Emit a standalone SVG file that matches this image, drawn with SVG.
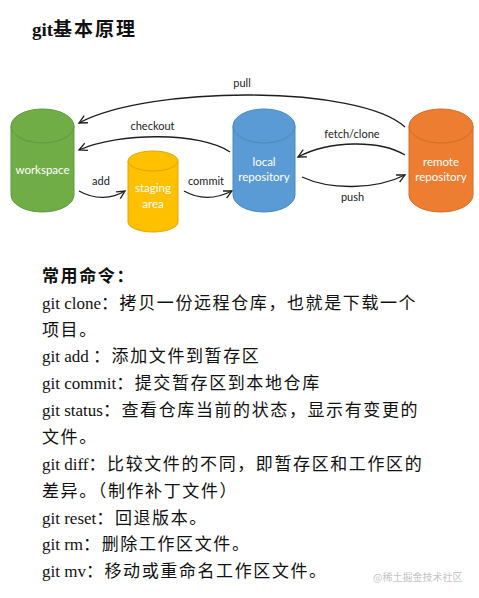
<svg xmlns="http://www.w3.org/2000/svg" width="479" height="598" viewBox="0 0 479 598">
<defs>
<marker id="arr" markerUnits="userSpaceOnUse" markerWidth="12" markerHeight="12" refX="8" refY="4" orient="auto" overflow="visible">
<path d="M0,0 L8,4 L0,8" fill="none" stroke="#1e1e1e" stroke-width="1.3"/>
</marker>
<style>
.conn{fill:none;stroke:#1e1e1e;stroke-width:1.3;marker-end:url(#arr)}
.lbl{font-family:Lato,"Open Sans",sans-serif;font-size:11px;fill:#222;text-anchor:middle}
.clbl{font-family:Lato,"Open Sans",sans-serif;font-size:11.5px;fill:#fff;text-anchor:middle}
.body{font-family:"Liberation Serif","Noto Sans CJK SC",serif;font-size:17px;fill:#111}
.cjk{letter-spacing:1.6px}
.green{fill:#70ad47;stroke:#5f9a3b}
.yellow{fill:#ffc000;stroke:#e0a800}
.blue{fill:#5b9bd5;stroke:#4a88c0}
.orange{fill:#ed7d31;stroke:#d46c25}
</style>
</defs>
<rect width="479" height="598" fill="#fff"/>
<text x="32" y="36" style="font-family:'Liberation Serif','Noto Sans CJK SC',serif;font-size:19px;font-weight:bold;fill:#111">git<tspan style="letter-spacing:2px">基本原理</tspan></text>

<g id="connectors">
<path class="conn" d="M405,127 C360,85 150,85 79,123"/>
<path class="conn" d="M230,152 C200,132 120,132 79,150"/>
<path class="conn" d="M79,191 C95,200 112,199 125,191"/>
<path class="conn" d="M184,191 C200,200 216,199 232,191"/>
<path class="conn" d="M405,155 C380,140 330,140 298,157"/>
<path class="conn" d="M302,177 C330,190 375,190 405,175"/>
<text class="lbl" x="242" y="87">pull</text>
<text class="lbl" x="152.5" y="130">checkout</text>
<text class="lbl" x="101" y="185">add</text>
<text class="lbl" x="206" y="185">commit</text>
<text class="lbl" x="352" y="138">fetch/clone</text>
<text class="lbl" x="352.5" y="201">push</text>
</g>

<g id="workspace">
<path class="green" d="M11,126 L11,195 A31.5,17 0 0 0 74,195 L74,126 Z"/>
<ellipse class="green" cx="42.5" cy="126" rx="31.5" ry="17"/>
<text class="clbl" x="42.5" y="174">workspace</text>
</g>
<g id="staging">
<path class="yellow" d="M128,161 L128,222 A25,10 0 0 0 178,222 L178,161 Z"/>
<ellipse class="yellow" cx="153" cy="161" rx="25" ry="10"/>
<text class="clbl" x="153" y="192">staging</text>
<text class="clbl" x="153" y="208">area</text>
</g>
<g id="local">
<path class="blue" d="M233,126 L233,195 A31,17 0 0 0 295,195 L295,126 Z"/>
<ellipse class="blue" cx="264" cy="126" rx="31" ry="17"/>
<text class="clbl" x="264" y="166">local</text>
<text class="clbl" x="264" y="181">repository</text>
</g>
<g id="remote">
<path class="orange" d="M409,126 L409,195 A32,17 0 0 0 473,195 L473,126 Z"/>
<ellipse class="orange" cx="441" cy="126" rx="32" ry="17"/>
<text class="clbl" x="441" y="166">remote</text>
<text class="clbl" x="441" y="181">repository</text>
</g>

<g id="commands">
<text class="body" x="42" y="281.5" style="font-weight:bold"><tspan class="cjk">常用命令：</tspan></text>
<text class="body" x="42" y="308.5">git clone<tspan class="cjk">：拷贝一份远程仓库，也就是下载一个</tspan></text>
<text class="body" x="42" y="335.5"><tspan class="cjk">项目。</tspan></text>
<text class="body" x="42" y="362">git add <tspan class="cjk">：添加文件到暂存区</tspan></text>
<text class="body" x="42" y="389">git commit<tspan class="cjk">：提交暂存区到本地仓库</tspan></text>
<text class="body" x="42" y="416">git status<tspan class="cjk">：查看仓库当前的状态，显示有变更的</tspan></text>
<text class="body" x="42" y="443"><tspan class="cjk">文件。</tspan></text>
<text class="body" x="42" y="470">git diff<tspan class="cjk">：比较文件的不同，即暂存区和工作区的</tspan></text>
<text class="body" x="42" y="497"><tspan class="cjk">差异。（制作补丁文件）</tspan></text>
<text class="body" x="42" y="523.5">git reset<tspan class="cjk">：回退版本。</tspan></text>
<text class="body" x="42" y="550">git rm<tspan class="cjk">：删除工作区文件。</tspan></text>
<text class="body" x="42" y="576.5">git mv<tspan class="cjk">：移动或重命名工作区文件。</tspan></text>
</g>
<text x="373" y="581" style="font-family:'Noto Sans CJK SC',sans-serif;font-size:10px;fill:#c4c4c4">@稀土掘金技术社区</text>
</svg>
